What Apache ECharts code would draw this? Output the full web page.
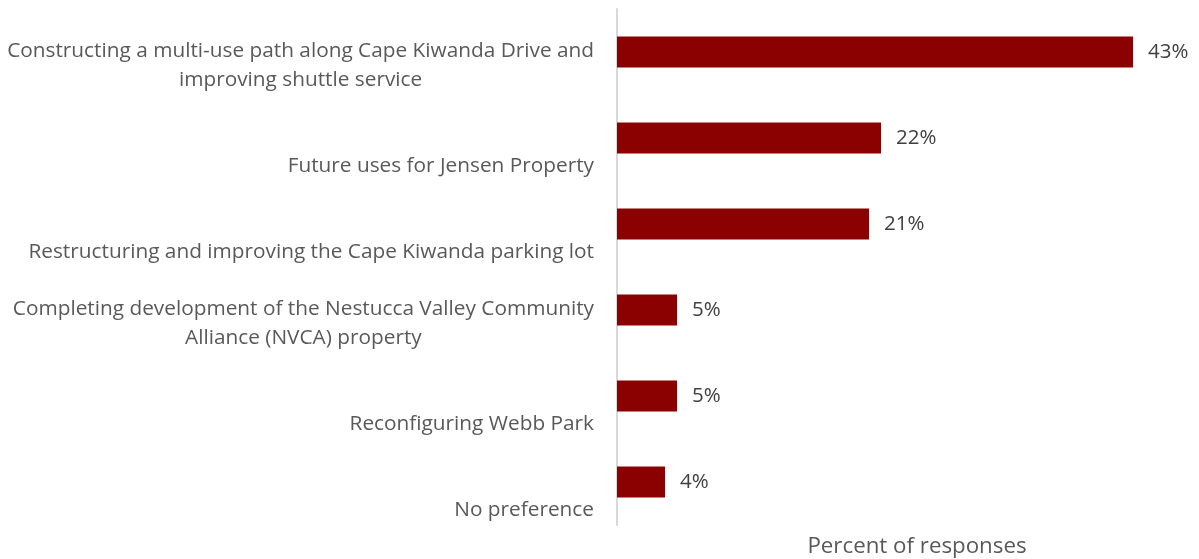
<!DOCTYPE html>
<html>
<head>
<meta charset="utf-8">
<script src="https://cdn.jsdelivr.net/npm/echarts@6/dist/echarts.min.js"></script>
<style>
  html, body { margin: 0; padding: 0; background: #fff; }
  #chart { width: 1199px; height: 559px; }
</style>
</head>
<body>
<div id="chart"></div>
<script>
// Survey options, top to bottom
const categories = [
  'Constructing a multi-use path along Cape Kiwanda Drive and\nimproving shuttle service',
  'Future uses for Jensen Property',
  'Restructuring and improving the Cape Kiwanda parking lot',
  'Completing development of the Nestucca Valley Community\nAlliance (NVCA) property',
  'Reconfiguring Webb Park',
  'No preference'
];
// Share of responses, in percent
const percents = [43, 22, 21, 5, 5, 4];
const axisTitle = 'Percent of responses';

const font = '"Open Sans", Lato, sans-serif';

// each line becomes its own centred fragment, so wrapped labels are centred
// within a block that stays right-aligned against the axis
function centredLines(value) {
  return value ? value.split('\n').map(function (l) { return '{c|' + l + '}'; }).join('\n') : '';
}

const chart = echarts.init(document.getElementById('chart'));
chart.setOption({
  animation: false,
  grid: {
    left: 617, top: 9, width: 600, bottom: 34,
    containLabel: false,
    outerBoundsMode: 'none'
  },
  xAxis: {
    type: 'value',
    min: 0,
    max: 50,
    name: axisTitle,
    nameLocation: 'middle',
    nameGap: 11,
    nameTextStyle: { fontFamily: font, fontSize: 22.3, color: '#595959' },
    axisLine: { show: false },
    axisTick: { show: false },
    axisLabel: { show: false },
    splitLine: { show: false }
  },
  yAxis: [
    {
      // band axis carrying the bars
      type: 'category',
      data: categories,
      inverse: true,
      axisLine: { show: true, lineStyle: { color: '#d9d9d9', width: 2 } },
      axisTick: { show: false },
      axisLabel: { show: false }
    },
    {
      // label axis: ticks fall on band edges so each text sits at the bottom of its band
      type: 'category',
      position: 'left',
      data: [''].concat(categories),
      boundaryGap: false,
      inverse: true,
      axisLine: { show: false },
      axisTick: { show: false },
      axisLabel: {
        margin: 23,
        verticalAlign: 'bottom',
        align: 'right',
        formatter: centredLines,
        rich: {
          c: {
            align: 'center',
            fontFamily: font,
            fontSize: 20.8,
            lineHeight: 29,
            color: '#595959'
          }
        }
      }
    }
  ],
  series: [{
    type: 'bar',
    yAxisIndex: 0,
    data: percents,
    barWidth: 31,
    itemStyle: { color: '#8B0000' },
    label: {
      show: true,
      position: 'right',
      distance: 15,
      formatter: '{c}%',
      fontFamily: font,
      fontSize: 20.5,
      color: '#404040'
    }
  }]
});
</script>
</body>
</html>
